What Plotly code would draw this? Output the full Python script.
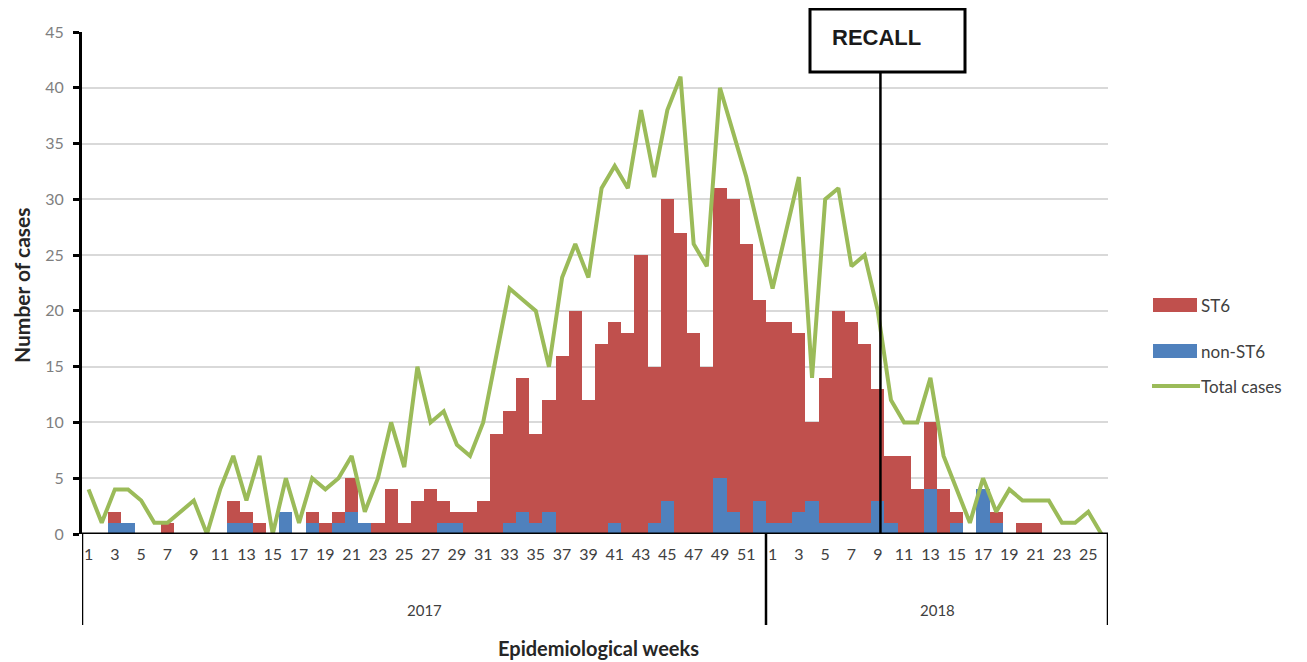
import plotly.graph_objects as go

# ---------------- data ----------------
weeks_2017 = list(range(1, 53))
weeks_2018 = list(range(1, 27))
year_labels = ["2017", "2018"]

st6_2017 = [0, 0, 2, 0, 0, 0, 1, 0, 0, 0,
            0, 3, 2, 1, 0, 0, 0, 2, 1, 2,
            5, 0, 1, 4, 1, 3, 4, 3, 2, 2,
            3, 9, 11, 14, 9, 12, 16, 20, 12, 17,
            19, 18, 25, 15, 30, 27, 18, 15, 31, 30,
            26, 21]
st6_2018 = [19, 19, 18, 10, 14, 20, 19, 17, 13, 7,
            7, 4, 10, 4, 2, 0, 0, 2, 0, 1,
            1, 0, 0, 0, 0, 0]

non_st6_2017 = [0, 0, 1, 1, 0, 0, 0, 0, 0, 0,
                0, 1, 1, 0, 0, 2, 0, 1, 0, 1,
                2, 1, 0, 0, 0, 0, 0, 1, 1, 0,
                0, 0, 1, 2, 1, 2, 0, 0, 0, 0,
                1, 0, 0, 1, 3, 0, 0, 0, 5, 2,
                0, 3]
non_st6_2018 = [1, 1, 2, 3, 1, 1, 1, 1, 3, 1,
                0, 0, 4, 0, 1, 0, 4, 1, 0, 0,
                0, 0, 0, 0, 0, 0]

total_2017 = [4, 1, 4, 4, 3, 1, 1, 2, 3, 0,
              4, 7, 3, 7, 0, 5, 1, 5, 4, 5,
              7, 2, 5, 10, 6, 15, 10, 11, 8, 7,
              10, 16, 22, 21, 20, 15, 23, 26, 23, 31,
              33, 31, 38, 32, 38, 41, 26, 24, 40, 36,
              32, 27]
total_2018 = [22, 27, 32, 14, 30, 31, 24, 25, 20, 12,
              10, 10, 14, 7, 4, 1, 5, 2, 4, 3,
              3, 3, 1, 1, 2, 0]

recall_week_2018 = 9  # recall marked just after week 9 of 2018

# ---------------- derived ----------------
weeks = weeks_2017 + weeks_2018
idx = list(range(len(weeks)))
st6 = st6_2017 + st6_2018
non_st6 = non_st6_2017 + non_st6_2018
total = total_2017 + total_2018
n17 = len(weeks_2017)
n = len(weeks)

tickvals = [i for i, w in enumerate(weeks) if w % 2 == 1]
ticktext = [str(weeks[i]) for i in tickvals]

RED = "#C0504D"
BLUE = "#4F81BD"
GREEN = "#9BBB59"
TXT = "#404040"
FONT = "Lato, Liberation Sans Narrow, sans-serif"

fig = go.Figure()
fig.add_trace(go.Bar(x=idx, y=st6, name="ST6", marker=dict(color=RED, line=dict(width=0)),
                     width=1.0, showlegend=False))
fig.add_trace(go.Bar(x=idx, y=non_st6, name="non-ST6", marker=dict(color=BLUE, line=dict(width=0)),
                     width=1.0, showlegend=False))
fig.add_trace(go.Scatter(x=idx, y=total, name="Total cases", mode="lines",
                         line=dict(color=GREEN, width=4), showlegend=False))

OFF = 8  # default page body margin
# target plot area in page pixels: x 82..1108, y 32..534
W, H = 1307 - OFF, 662 - OFF
L, T = 82 - OFF, 32 - OFF
R = W - (1108 - OFF)
B = H - (534 - OFF)
pw, ph = W - L - R, H - T - B


def px_x(p):  # page pixel -> paper x
    return (p - OFF - L) / pw


def px_y(p):  # page pixel -> paper y
    return (H - B - (p - OFF)) / ph


fig.update_layout(
    width=W, height=H,
    margin=dict(l=L, r=R, t=T, b=B, pad=0),
    paper_bgcolor="white", plot_bgcolor="white",
    barmode="overlay", bargap=0,
    showlegend=False,
    font=dict(family=FONT, color=TXT, size=13),
)
fig.update_xaxes(range=[-0.5, n - 0.5], tickmode="array", tickvals=tickvals, ticktext=ticktext,
                 showgrid=False, zeroline=False, showline=False, ticks="",
                 tickfont=dict(family=FONT, size=16, color=TXT), ticklabelstandoff=9)
fig.update_yaxes(range=[0, 45], dtick=5, showgrid=True, gridcolor="#D9D9D9", gridwidth=1.5,
                 zeroline=False, showline=True, linecolor="black", linewidth=3,
                 ticks="outside", ticklen=6, tickwidth=3, tickcolor="black",
                 ticklabelstandoff=6,
                 tickfont=dict(family=FONT, size=16, color="#7F7F7F"))

shapes = []
# x axis baseline
shapes.append(dict(type="line", xref="x", yref="y", x0=-0.5, x1=n - 0.5, y0=0, y1=0,
                   line=dict(color="black", width=3), layer="above"))
# year dividers
for xv in [-0.5, n17 - 0.5, n - 0.5]:
    shapes.append(dict(type="line", xref="x", yref="paper", x0=xv, x1=xv, y0=0, y1=px_y(625),
                       line=dict(color="black", width=2.5)))
# recall marker
recall_x = n17 + recall_week_2018 - 1 + 0.2
shapes.append(dict(type="line", xref="x", yref="paper", x0=recall_x, x1=recall_x,
                   y0=0, y1=px_y(72), line=dict(color="black", width=2.5), layer="above"))
shapes.append(dict(type="rect", xref="paper", yref="paper", x0=px_x(810), x1=px_x(965),
                   y0=px_y(72), y1=px_y(9), line=dict(color="black", width=3),
                   fillcolor="white", layer="above"))

annotations = [
    dict(text="<b>RECALL</b>", xref="paper", yref="paper", x=px_x(876), y=px_y(38), showarrow=False,
         font=dict(family="Liberation Sans, Arial, sans-serif", size=22, color="#1a1a1a"),
         xanchor="center", yanchor="middle"),
    dict(text=year_labels[0], xref="x", yref="paper", x=(n17 - 1) / 2, y=px_y(610), showarrow=False,
         font=dict(family=FONT, size=15, color=TXT), yanchor="middle"),
    dict(text=year_labels[1], xref="x", yref="paper", x=n17 + (n - n17 - 1) / 2, y=px_y(610),
         showarrow=False, font=dict(family=FONT, size=15, color=TXT), yanchor="middle"),
    dict(text="<b>Epidemiological weeks</b>", xref="paper", yref="paper", x=px_x(598), y=px_y(648),
         showarrow=False, font=dict(family=FONT, size=20, color="#262626"), yanchor="middle"),
    dict(text="<b>Number of cases</b>", xref="paper", yref="paper", x=px_x(21), y=px_y(285),
         showarrow=False, textangle=-90, font=dict(family=FONT, size=21, color="#262626"),
         xanchor="center", yanchor="middle"),
]

# custom legend (wide swatches like the original)
legend_items = [("ST6", RED, "bar", 305), ("non-ST6", BLUE, "bar", 351), ("Total cases", GREEN, "line", 386)]
for label, col, kind, yc in legend_items:
    if kind == "bar":
        shapes.append(dict(type="rect", xref="paper", yref="paper", x0=px_x(1153), x1=px_x(1197),
                           y0=px_y(yc + 7), y1=px_y(yc - 7), fillcolor=col, line=dict(width=0)))
    else:
        shapes.append(dict(type="line", xref="paper", yref="paper", x0=px_x(1152), x1=px_x(1200),
                           y0=px_y(yc), y1=px_y(yc), line=dict(color=col, width=4)))
    annotations.append(dict(text=label, xref="paper", yref="paper", x=px_x(1199), y=px_y(yc),
                            showarrow=False, xanchor="left", yanchor="middle",
                            font=dict(family=FONT, size=17, color=TXT)))

fig.update_layout(shapes=shapes, annotations=annotations)
fig.write_html("out.html")
